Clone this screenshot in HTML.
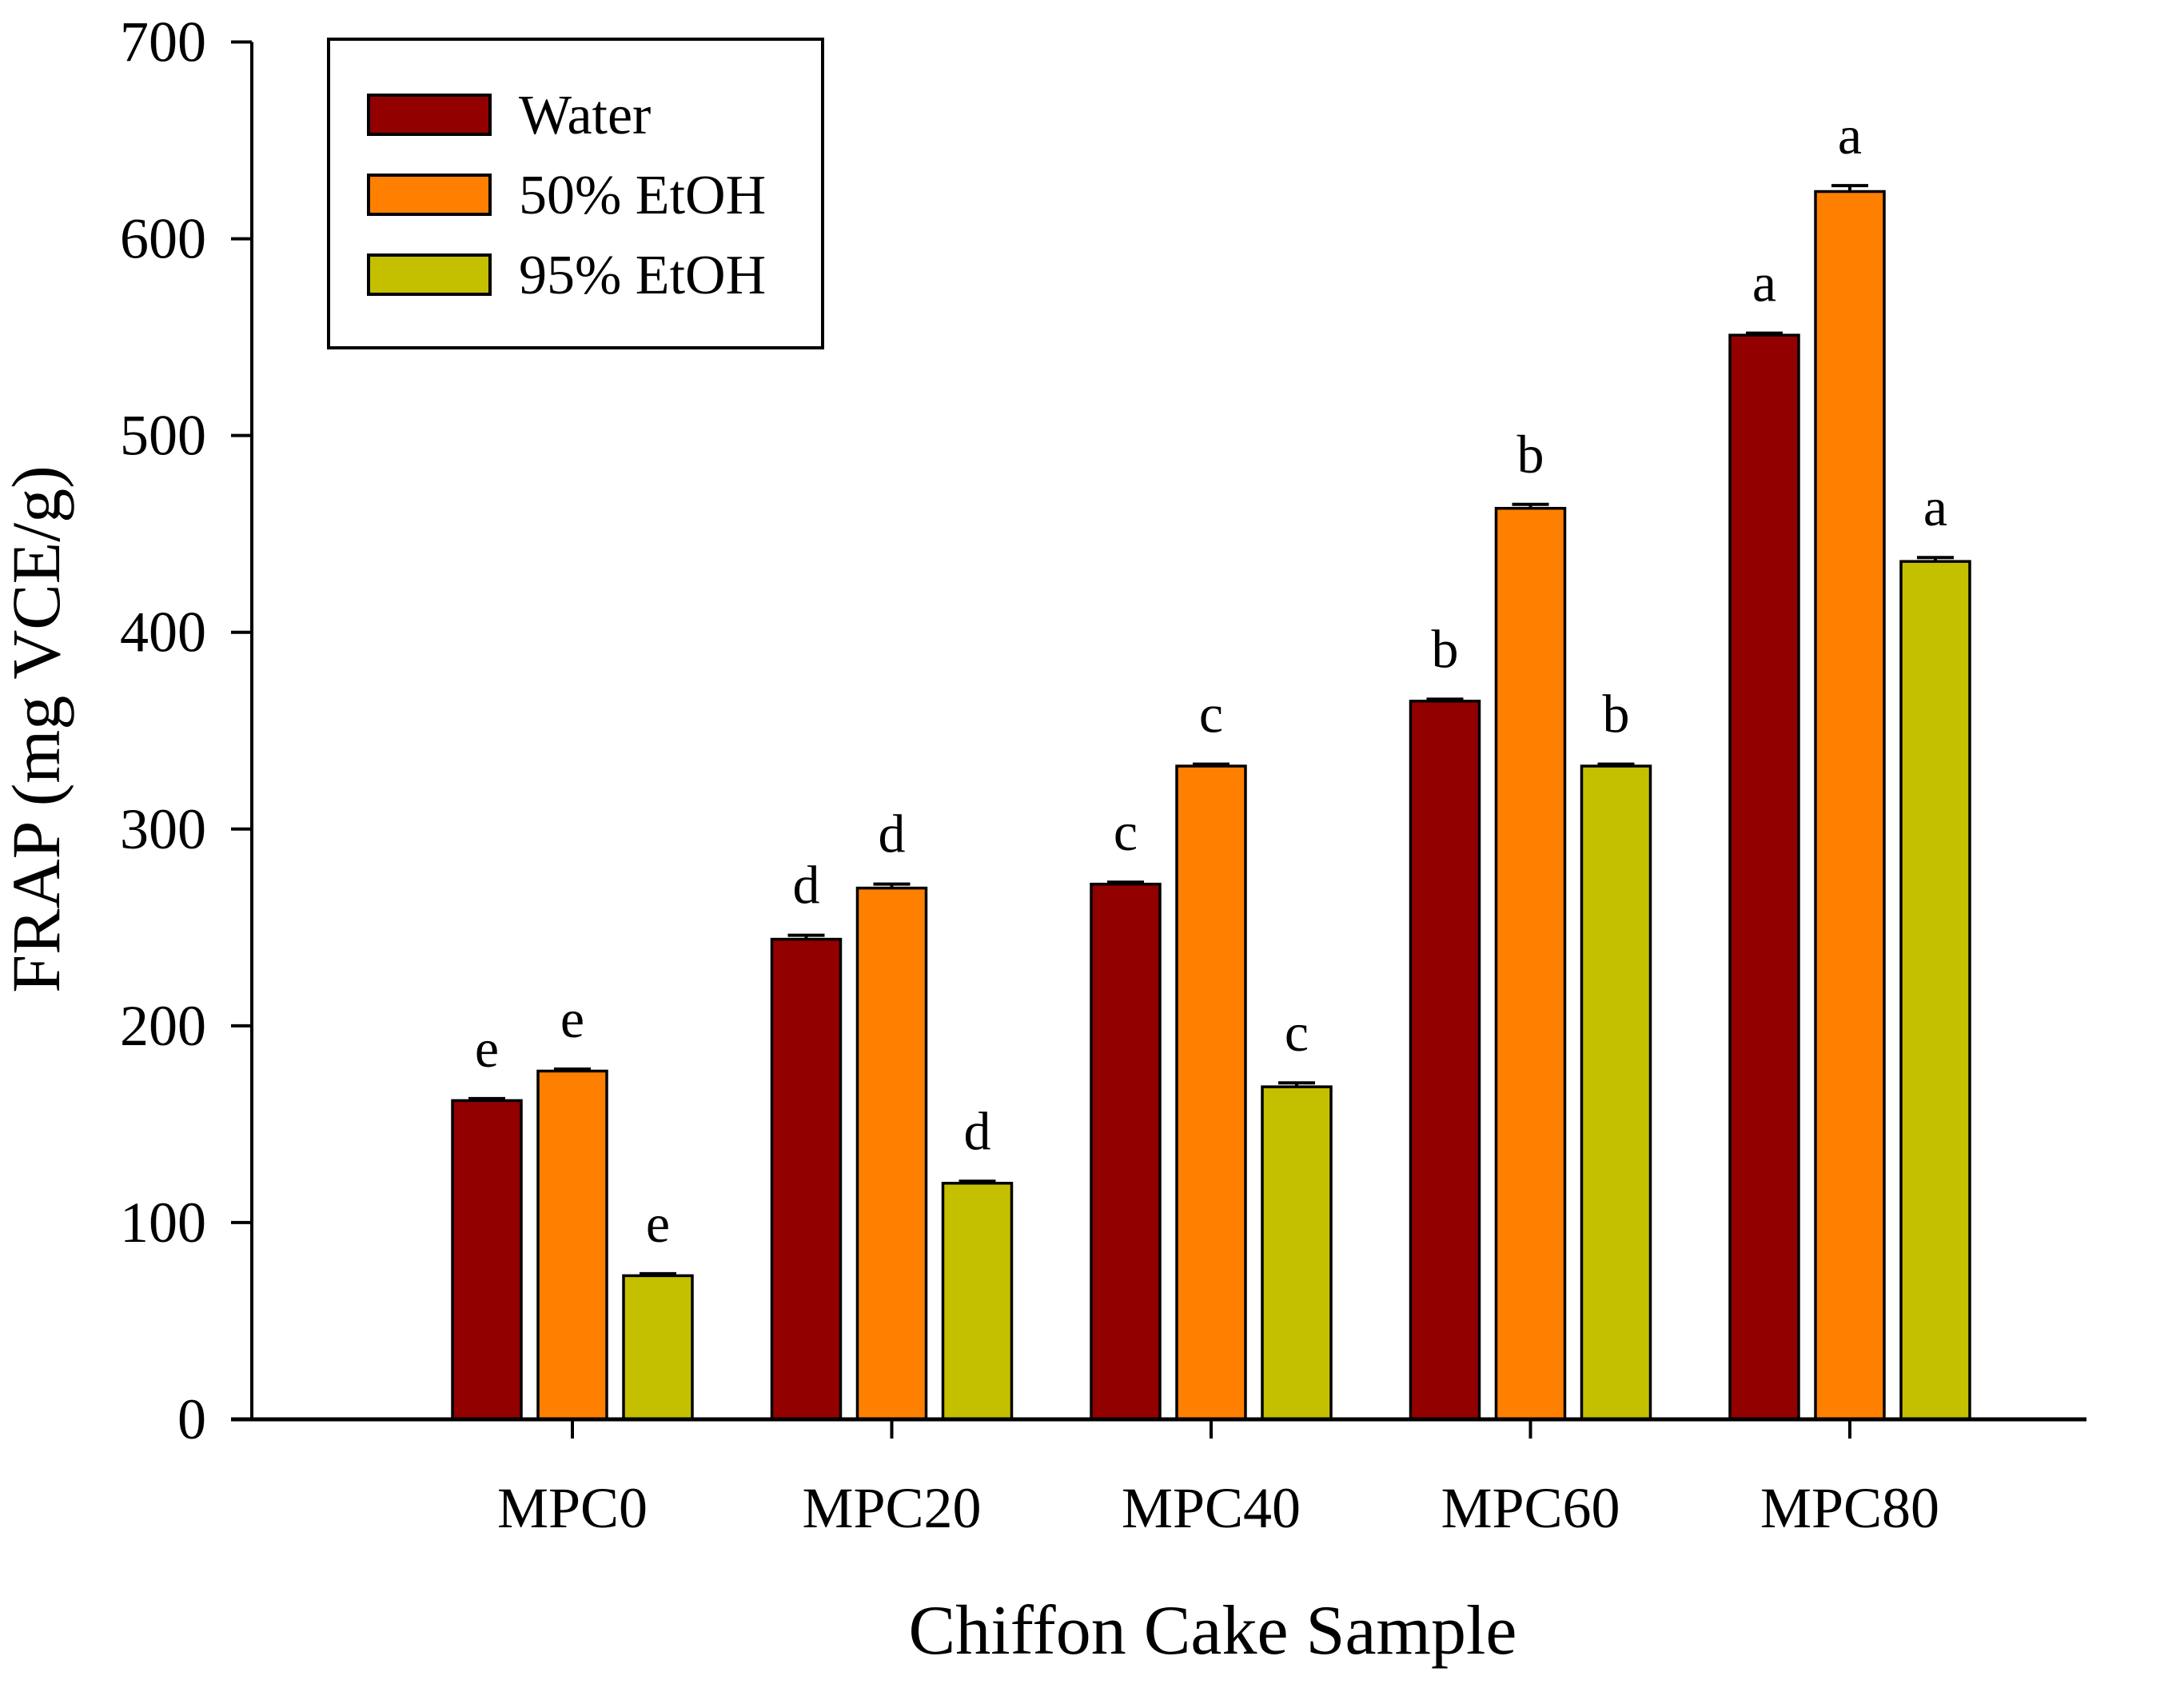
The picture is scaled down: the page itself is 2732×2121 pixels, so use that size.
<!DOCTYPE html>
<html><head><meta charset="utf-8"><style>
html,body{margin:0;padding:0;background:#fff;}
svg{display:block;font-family:"Liberation Serif",serif;}
</style></head><body>
<svg id="chart" width="2732" height="2121" viewBox="0 0 2732 2121" xmlns="http://www.w3.org/2000/svg">
<g id="axes"></g>
<g id="bars"></g>
<g id="legend">
  <rect x="411" y="49" width="618" height="386" fill="#fff" stroke="#000" stroke-width="4"/>
  <rect x="461" y="119" width="152" height="49" fill="#930000" stroke="#000" stroke-width="4"/>
  <text x="649" y="167" font-size="70">Water</text>
  <rect x="461" y="219" width="152" height="49" fill="#ff8000" stroke="#000" stroke-width="4"/>
  <text x="649" y="267" font-size="70">50% EtOH</text>
  <rect x="461" y="319" width="152" height="49" fill="#c4c000" stroke="#000" stroke-width="4"/>
  <text x="649" y="367" font-size="70">95% EtOH</text>
</g>
<text x="1517" y="2068" font-size="88" text-anchor="middle">Chiffon Cake Sample</text>
<text transform="translate(74,912) rotate(-90)" font-size="86" text-anchor="middle">FRAP (mg VCE/g)</text>
</svg>
<script>
const categories = ["MPC0","MPC20","MPC40","MPC60","MPC80"];
const seriesNames = ["Water","50% EtOH","95% EtOH"];
const waterValues = [162, 244, 272, 365, 551];
const etoh50Values = [177, 270, 332, 463, 624];
const etoh95Values = [73, 120, 169, 332, 436];
const waterErrors = [1, 2, 1, 1, 1];
const etoh50Errors = [1, 2, 1, 2, 3];
const etoh95Errors = [1, 1, 2, 1, 2];
const waterLetters = ["e","d","c","b","a"];
const etoh50Letters = ["e","d","c","b","a"];
const etoh95Letters = ["e","d","c","b","a"];
const yTicks = [0,100,200,300,400,500,600,700];

const NS = "http://www.w3.org/2000/svg";
const y0 = 1775, yTop = 52.5, yMax = 700;
function yScale(v){ return y0 - (v / yMax) * (y0 - yTop); }
const cat0 = 716, catStep = 399.5;
function xScale(i){ return cat0 + i * catStep; }
const barW = 86, barStep = 107;
const colors = ["#930000","#ff8000","#c4c000"];
const series = [waterValues, etoh50Values, etoh95Values];
const errs = [waterErrors, etoh50Errors, etoh95Errors];
const letters = [waterLetters, etoh50Letters, etoh95Letters];
const slugs = ["water","50-etoh","95-etoh"];

function mk(tag, attrs, parent){
  const el = document.createElementNS(NS, tag);
  for (const k in attrs) el.setAttribute(k, attrs[k]);
  parent.appendChild(el);
  return el;
}
const axes = document.getElementById('axes');
const bars = document.getElementById('bars');

let el = mk('line', {x1:315, y1:yScale(yMax), x2:315, y2:y0, stroke:'#000','stroke-width':4}, axes);


yTicks.forEach(t => {
  const y = yScale(t);
  let tk = mk('line', {x1:289, y1:y, x2:315, y2:y, stroke:'#000','stroke-width':4}, axes);
  
  
  let lb = mk('text', {x:258, y:y+24, 'font-size':72, 'text-anchor':'end'}, axes);
  lb.textContent = t;
  
  
});

categories.forEach((c, i) => {
  const cx = xScale(i);
  series.forEach((vals, s) => {
    const v = vals[i];
    const bx = cx + (s - 1) * barStep - barW / 2;
    const by = yScale(v);
    let r = mk('rect', {x:bx, y:by, width:barW, height:y0 - by, fill:colors[s], stroke:'#000','stroke-width':3.5}, bars);
    
    
    const ey = yScale(v + errs[s][i]);
    let e = mk('path', {d:'M'+(bx+20)+' '+ey+'H'+(bx+barW-20)+'M'+(bx+barW/2)+' '+ey+'V'+by, stroke:'#000','stroke-width':4, fill:'none'}, bars);
    
    
    let t = mk('text', {x:bx+barW/2, y:ey-40, 'font-size':68, 'text-anchor':'middle'}, bars);
    t.textContent = letters[s][i];
    
    
  });
  let tk = mk('line', {x1:cx, y1:y0, x2:cx, y2:y0+24, stroke:'#000','stroke-width':4}, axes);
  
  
  let lb = mk('text', {x:cx, y:1910, 'font-size':72, 'text-anchor':'middle'}, axes);
  lb.textContent = c;
  
  
});
el = mk('line', {x1:289, y1:y0, x2:2610, y2:y0, stroke:'#000','stroke-width':5}, document.getElementById('chart'));


</script>
</body></html>
